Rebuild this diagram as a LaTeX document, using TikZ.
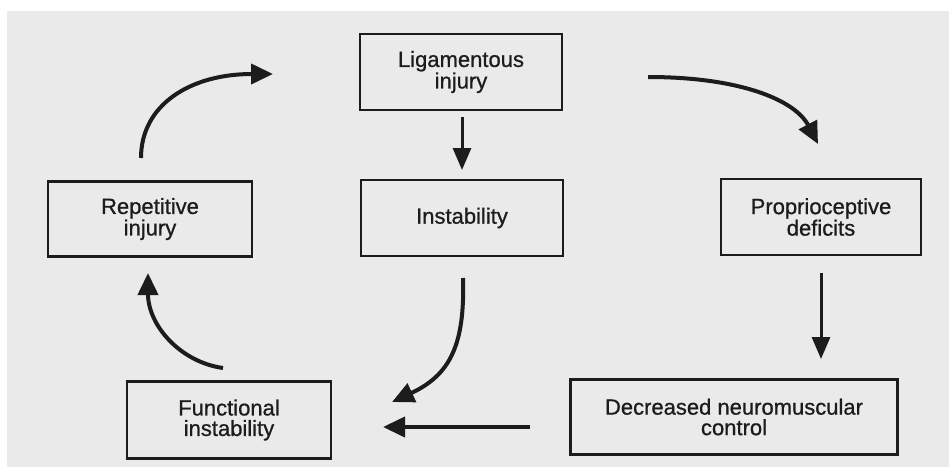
\documentclass[tikz,border=0pt]{standalone}
\usepackage{fontspec}
\setmainfont{Liberation Sans}
\newfontfamily\boxfont{Liberation Sans}[FakeBold=0.8]
\usetikzlibrary{arrows.meta}
\definecolor{paper}{HTML}{EAEAEA}
\definecolor{ink}{HTML}{1C1C1C}
\tikzset{
  box/.style={draw=ink, line width=2.4pt, fill=none, text=ink, align=center,
    inner sep=0pt, font=\boxfont\fontsize{22}{20.5}\selectfont},
  arr/.style={draw=ink, line width=4pt, -{Triangle[length=22pt,width=20pt]}},
  thinarr/.style={draw=ink, line width=3pt, -{Triangle[length=22pt,width=18pt]}}
}
\begin{document}
\begin{tikzpicture}[x=1pt,y=-1pt]
\useasboundingbox (0,0) rectangle (949,471);
\fill[white] (0,0) rectangle (949,471);
\fill[paper] (7,11) rectangle (949,467);

\node[box, minimum width=202pt, minimum height=76pt] (lig) at (461,72) {Ligamentous\\injury};
\node[box, minimum width=202pt, minimum height=76pt] (inst) at (462,218) {Instability};
\node[box, minimum width=204pt, minimum height=75pt] (rep) at (150,219) {Repetitive\\injury};
\node[box, minimum width=200pt, minimum height=76pt] (prop) at (821,217) {Proprioceptive\\deficits};
\node[box, minimum width=204pt, minimum height=77pt] (func) at (229,420) {Functional\\instability};
\node[box, minimum width=327pt, minimum height=75pt] (dec) at (734,417) {Decreased neuromuscular\\control};

% free ends
\coordinate (a1s) at (462,117); \coordinate (a1e) at (462,170);
\coordinate (a2s) at (648,77);  \coordinate (a2e) at (818,144);
\coordinate (a3s) at (821,273); \coordinate (a3e) at (821,359);
\coordinate (a4s) at (530,427); \coordinate (a4e) at (383,427);
\coordinate (a5s) at (463,278); \coordinate (a5e) at (392,402);
\coordinate (a6s) at (223,368); \coordinate (a6e) at (148,273);
\coordinate (a7s) at (141,158); \coordinate (a7e) at (273,74);

\draw[thinarr] (a1s) -- (a1e);
\draw[arr] (a2s) .. controls (740,77) and (795,100) .. (a2e);
\draw[thinarr] (a3s) -- (a3e);
\draw[arr] (a4s) -- (a4e);
\draw[arr] (a5s) .. controls (465,345) and (450,375) .. (a5e);
\draw[arr] (a6s) .. controls (180,362) and (148,325) .. (a6e);
\draw[arr] (a7s) .. controls (141,105) and (190,74) .. (a7e);
\end{tikzpicture}
\end{document}
